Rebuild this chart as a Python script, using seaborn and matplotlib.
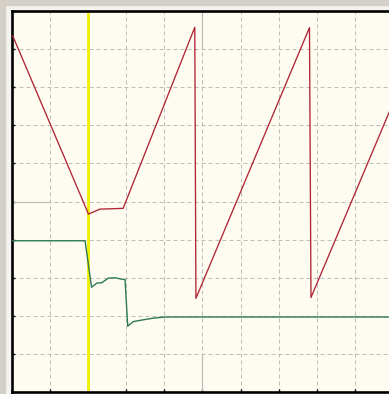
import numpy as np
import pandas as pd
import matplotlib
matplotlib.use("Agg")
import matplotlib.pyplot as plt
import seaborn as sns
from matplotlib.patches import Rectangle

# ── Trace data (screen divisions, 10 x 10 grid) ──────────────────────────────
red_t = [0.02, 2.01, 2.31, 2.92, 4.80, 4.83, 7.81, 7.85, 9.91]
red_v = [9.35, 4.67, 4.80, 4.82, 9.57, 2.46, 9.56, 2.48, 7.36]

green_t = [0.00, 1.92, 2.09, 2.23, 2.36, 2.53, 2.71, 2.84, 2.97,
           3.04, 3.19, 3.41, 3.71, 4.02, 9.95]
green_v = [3.97, 3.97, 2.75, 2.86, 2.87, 2.99, 3.00, 2.97, 2.95,
           1.73, 1.85, 1.89, 1.94, 1.97, 1.97]

cursor_t = 2.0
grid_ticks = list(range(0, 11))

BG = "#fefbf1"
GRID = "#bdbdbd"

sns.set_style("ticks")

fig = plt.figure(figsize=(3.89, 3.94), dpi=100)
fig.patch.set_facecolor("#f4f3ef")
# window chrome bands (grey frame)
fig.patches.append(Rectangle((0, 0), 5 / 389, 1, transform=fig.transFigure,
                             color="#d4d0c8", zorder=0))
fig.patches.append(Rectangle((0, 1 - 5 / 394), 1, 5 / 394, transform=fig.transFigure,
                             color="#d4d0c8", zorder=0))

ax = fig.add_axes([11.9 / 389, 1.9 / 394, 381 / 389, 381.2 / 394])
ax.set_facecolor(BG)

ax.set_xlim(0, 10)
ax.set_ylim(0, 10)
ax.set_xticks(grid_ticks)
ax.set_yticks(grid_ticks)
ax.grid(True, ls=(0, (4, 3)), lw=0.72, color=GRID, zorder=1)
ax.set_axisbelow(True)

# solid centre graticule pieces
ax.plot([5, 5], [9, 10], color=GRID, lw=0.9, zorder=1.5)
ax.plot([5, 5], [0, 1], color=GRID, lw=0.9, zorder=1.5)
ax.plot([0, 1], [5, 5], color=GRID, lw=0.9, zorder=1.5)

# cursor
ax.axvline(cursor_t, color="#f2ee00", lw=2.0, zorder=2)

red_df = pd.DataFrame({"t": red_t, "v": red_v})
green_df = pd.DataFrame({"t": green_t, "v": green_v})
sns.lineplot(data=red_df, x="t", y="v", sort=False, estimator=None,
             color="#b02535", lw=0.95, ax=ax, zorder=3)
sns.lineplot(data=green_df, x="t", y="v", sort=False, estimator=None,
             color="#2c7a52", lw=1.0, ax=ax, zorder=3)

ax.set_xlabel("")
ax.set_ylabel("")
ax.tick_params(direction="in", length=2.5, width=1, color="black",
               labelleft=False, labelbottom=False)
for side in ["top", "left", "bottom", "right"]:
    ax.spines[side].set_visible(True)
    ax.spines[side].set_color("black")
    ax.spines[side].set_linewidth(1.9)

fig.savefig("out.png", dpi=100, facecolor=fig.get_facecolor())
